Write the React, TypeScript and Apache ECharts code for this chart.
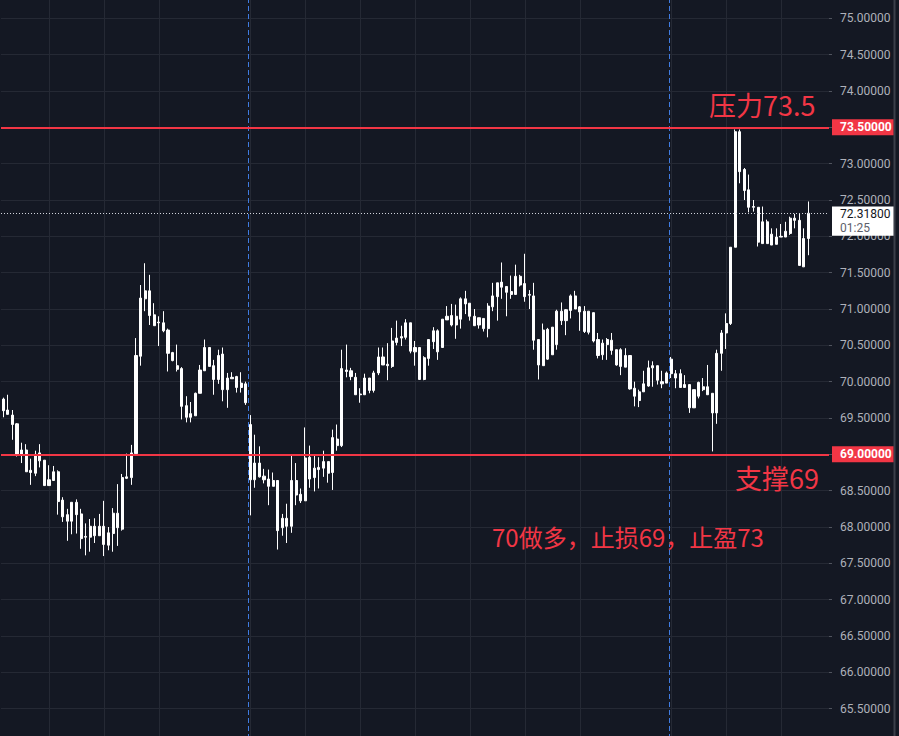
import React, { useEffect, useRef } from "react";
import * as echarts from "echarts";

// ---- data (all candles drawn white) ----
const bodyTop = [
  69.76, 69.61, 69.54, 69.42, 69.06, 69.06, 68.78, 69.0, 69.02, 68.92,
  68.65, 68.76, 68.76, 68.37, 68.17, 68.34, 68.34, 68.18, 67.87, 68.01,
  68.01, 68.01, 68.01, 67.92, 68.19, 68.19, 68.68, 68.69, 69.02, 70.36,
  71.15, 71.25, 71.25, 70.92, 70.82, 70.81, 70.71, 70.4, 70.22, 70.18,
  69.67, 69.56, 69.84, 70.16, 70.47, 70.47, 70.22, 70.36, 70.38, 70.05,
  70.06, 70.07, 69.98, 69.97, 69.41, 68.88, 68.88, 68.7, 68.66, 68.64,
  68.64, 68.12, 68.12, 68.64, 68.64, 68.45, 68.95, 68.96, 68.81, 68.82,
  68.9, 68.9, 69.23, 69.21, 70.18, 70.16, 70.15, 70.06, 69.83, 70.05,
  70.05, 70.12, 70.34, 70.34, 70.24, 70.56, 70.6, 70.62, 70.81, 70.81,
  70.47, 70.47, 70.33, 70.58, 70.7, 70.7, 70.86, 70.9, 70.91, 70.9,
  71.14, 71.14, 71.08, 70.9, 70.88, 70.87, 71.04, 71.18, 71.36, 71.37,
  71.31, 71.24, 71.45, 71.45, 71.35, 71.2, 71.18, 70.58, 70.71, 70.72,
  70.75, 70.97, 70.97, 70.99, 71.18, 71.18, 71.03, 70.97, 70.97, 70.95,
  70.58, 70.53, 70.58, 70.57, 70.44, 70.44, 70.36, 70.36, 69.91, 69.86,
  69.97, 70.19, 70.22, 70.22, 70.0, 70.12, 70.31, 70.11, 70.11, 69.96,
  69.96, 69.89, 69.99, 69.93, 69.93, 69.84, 70.39, 70.67, 70.8, 71.85,
  73.44, 73.44, 72.92, 72.64, 72.41, 72.4, 72.2, 72.2, 72.03, 71.99,
  72.0, 72.07, 72.25, 72.25, 72.22, 71.97, 72.318,
];
const bodyBottom = [
  69.6, 69.55, 69.41, 69.0, 69.0, 68.76, 68.75, 68.74, 68.91, 68.57,
  68.57, 68.64, 68.35, 68.14, 68.08, 68.08, 68.17, 67.84, 67.86, 67.86,
  67.88, 67.88, 67.76, 67.75, 67.91, 67.99, 67.97, 68.67, 68.68, 69.01,
  70.35, 71.14, 70.91, 70.77, 70.81, 70.7, 70.39, 70.29, 70.17, 69.66,
  69.51, 69.51, 69.53, 69.84, 70.15, 70.21, 70.03, 70.03, 69.89, 69.89,
  70.04, 69.92, 69.92, 69.71, 68.65, 68.65, 68.69, 68.65, 68.56, 68.56,
  67.95, 67.99, 68.01, 68.01, 68.44, 68.36, 68.36, 68.66, 68.68, 68.79,
  68.81, 68.74, 68.75, 69.12, 69.12, 70.14, 70.07, 69.82, 69.82, 69.82,
  69.88, 69.88, 70.12, 70.23, 70.22, 70.21, 70.54, 70.6, 70.61, 70.42,
  70.41, 70.03, 70.03, 70.32, 70.55, 70.41, 70.47, 70.85, 70.78, 70.78,
  70.86, 71.07, 70.9, 70.77, 70.78, 70.73, 70.73, 71.03, 71.17, 71.3,
  71.23, 71.2, 71.2, 71.33, 71.17, 71.19, 70.57, 70.23, 70.22, 70.31,
  70.37, 70.51, 70.84, 70.84, 70.98, 71.0, 70.96, 70.69, 70.68, 70.56,
  70.36, 70.37, 70.51, 70.43, 70.23, 70.21, 70.2, 69.9, 69.8, 69.74,
  69.86, 69.94, 70.19, 70.02, 69.97, 69.98, 70.11, 70.05, 69.92, 69.92,
  69.64, 69.64, 69.8, 69.89, 69.82, 69.57, 69.57, 70.39, 70.67, 70.8,
  71.85, 72.89, 72.63, 72.4, 72.4, 71.92, 71.9, 71.9, 71.88, 71.89,
  71.99, 71.99, 72.04, 72.22, 71.6, 71.58, 71.97,
];
const highs = [
  69.78, 69.82, 69.61, 69.43, 69.16, 69.14, 68.94, 69.05, 69.14, 68.92,
  68.85, 68.84, 68.78, 68.41, 68.25, 68.34, 68.38, 68.25, 68.05, 68.11,
  68.12, 68.18, 68.36, 68.0, 68.26, 68.59, 68.73, 69.01, 69.13, 70.6,
  71.33, 71.63, 71.47, 71.08, 70.9, 70.97, 70.73, 70.41, 70.51, 70.2,
  69.8, 69.72, 69.85, 70.23, 70.58, 70.47, 70.3, 70.44, 70.47, 70.12,
  70.13, 70.08, 70.13, 70.0, 69.54, 69.27, 69.11, 68.8, 68.79, 68.75,
  68.64, 68.18, 68.32, 68.98, 68.88, 68.53, 69.37, 69.12, 68.98, 68.96,
  69.05, 68.9, 69.34, 69.41, 70.44, 70.51, 70.19, 70.12, 69.91, 70.11,
  70.05, 70.15, 70.47, 70.47, 70.53, 70.74, 70.84, 70.77, 70.86, 70.81,
  70.56, 70.47, 70.35, 70.58, 70.75, 70.72, 70.86, 71.04, 71.07, 71.06,
  71.16, 71.25, 71.08, 71.0, 70.88, 70.87, 71.08, 71.36, 71.36, 71.64,
  71.31, 71.46, 71.61, 71.47, 71.76, 71.26, 71.36, 70.58, 70.8, 70.74,
  70.75, 70.99, 71.09, 71.0, 71.2, 71.25, 71.04, 71.04, 70.97, 70.95,
  70.67, 70.58, 70.6, 70.67, 70.44, 70.46, 70.46, 70.36, 70.0, 69.89,
  70.15, 70.29, 70.28, 70.22, 70.15, 70.14, 70.34, 70.16, 70.17, 70.09,
  69.96, 69.89, 70.0, 70.05, 70.23, 69.84, 70.44, 70.71, 70.94, 71.85,
  73.47, 73.47, 72.94, 72.85, 72.5, 72.4, 72.41, 72.23, 72.11, 72.11,
  72.17, 72.2, 72.27, 72.31, 72.32, 72.11, 72.48,
];
const lows = [
  69.51, 69.55, 69.2, 68.97, 68.88, 68.76, 68.58, 68.7, 68.82, 68.57,
  68.57, 68.64, 68.17, 68.07, 67.81, 67.9, 67.91, 67.7, 67.61, 67.66,
  67.78, 67.88, 67.6, 67.68, 67.66, 67.74, 67.95, 68.66, 68.58, 69.01,
  70.22, 70.97, 70.78, 70.77, 70.49, 70.68, 70.14, 70.28, 70.14, 69.48,
  69.44, 69.44, 69.53, 69.84, 70.15, 70.21, 69.82, 69.97, 69.73, 69.64,
  70.04, 69.85, 69.85, 69.68, 68.16, 68.54, 68.68, 68.6, 68.3, 68.56,
  67.69, 67.88, 67.78, 67.92, 68.3, 68.33, 68.36, 68.54, 68.49, 68.53,
  68.69, 68.61, 68.51, 69.05, 69.1, 70.06, 70.02, 69.82, 69.71, 69.82,
  69.84, 69.85, 70.09, 70.23, 70.02, 70.19, 70.5, 70.49, 70.58, 70.39,
  70.22, 70.03, 70.02, 70.22, 70.45, 70.3, 70.47, 70.85, 70.76, 70.59,
  70.73, 70.93, 70.84, 70.77, 70.73, 70.69, 70.61, 70.97, 70.84, 71.14,
  70.9, 71.14, 71.2, 71.31, 71.1, 71.0, 70.44, 70.03, 70.22, 70.3,
  70.37, 70.44, 70.78, 70.64, 70.87, 71.0, 70.7, 70.67, 70.65, 70.54,
  70.32, 70.3, 70.3, 70.37, 70.22, 70.09, 70.2, 69.89, 69.66, 69.65,
  69.86, 69.93, 69.93, 69.96, 69.91, 69.98, 70.05, 69.91, 69.92, 69.92,
  69.57, 69.64, 69.77, 69.87, 69.82, 69.04, 69.42, 70.15, 70.45, 70.78,
  71.85, 72.73, 72.5, 72.33, 72.34, 71.86, 71.9, 71.9, 71.88, 71.89,
  71.99, 71.99, 72.02, 72.11, 71.6, 71.58, 71.74,
];

const lastPrice = 72.318;
const countdown = "01:25";
const resistance = 73.5;
const support = 69.0;
const yMin = 65;
const yMax = 75.5;
const yStep = 0.5;
const totalSlots = 181; // candles + empty space on the right
const gridLineIdx = [10, 22, 34, 54, 66, 78, 90, 102, 114, 126, 146, 158, 170];
const sessionStartIdx = [54, 146];
const noteResistance = "压力73.5";
const noteSupport = "支撑69";
const notePlan = "70做多，止损69，止盈73";

const RED = "#f23645";
const BG = "#141823";
const GRID = "#252934";

// page frame is 899x736; the chart canvas is a little taller so that the
// 75.5 and 65.0 ticks fall just outside the visible frame
const FRAME_W = 899;
const FRAME_H = 736;
const OFF_TOP = 17.83;
const CHART_H = 763.03;

export default function App() {
  const ref = useRef<HTMLDivElement>(null);

  useEffect(() => {
    document.body.style.margin = "0";
    const chart = echarts.init(ref.current!, null, { renderer: "svg" });

    const n = bodyTop.length;
    const ohlc: number[][] = [];
    let prevClose = bodyBottom[0];
    for (let i = 0; i < n; i++) {
      const t = bodyTop[i];
      const b = bodyBottom[i];
      let o: number, c: number;
      if (i === n - 1) {
        c = lastPrice;
        o = b;
      } else if (Math.abs(t - prevClose) < Math.abs(b - prevClose)) {
        o = t;
        c = b;
      } else {
        o = b;
        c = t;
      }
      ohlc.push([o, c, lows[i], highs[i]]);
      prevClose = c;
    }
    const categories = Array.from({ length: totalSlots }, (_, i) => String(i + 1));

    chart.setOption({
      animation: false,
      backgroundColor: BG,
      grid: { left: 1, right: 70, top: 0, bottom: 0, containLabel: false, outerBoundsMode: "none" },
      xAxis: {
        type: "category",
        data: categories,
        boundaryGap: true,
        axisLine: { show: false },
        axisTick: { show: false },
        axisLabel: { show: false },
        splitLine: { show: false },
      },
      yAxis: {
        type: "value",
        position: "right",
        min: yMin,
        max: yMax,
        interval: yStep,
        axisLine: { show: false },
        axisTick: { show: true, length: 3, lineStyle: { color: "#50545e" } },
        axisLabel: {
          margin: 11,
          color: "#aeb1ba",
          fontSize: 12,
          fontFamily: "Roboto",
          showMinLabel: false,
          showMaxLabel: false,
          formatter: (v: number) => v.toFixed(5),
        },
        splitLine: { show: true, lineStyle: { color: GRID, width: 1 } },
      },
      series: [
        {
          type: "candlestick",
          data: ohlc,
          barWidth: 2.6,
          silent: true,
          itemStyle: {
            color: "#ffffff",
            color0: "#ffffff",
            borderColor: "#ffffff",
            borderColor0: "#ffffff",
            borderWidth: 1,
          },
          markLine: {
            silent: true,
            symbol: ["none", "none"],
            label: { show: false },
            z: 5,
            data: [
              { yAxis: resistance, lineStyle: { color: RED, width: 2, type: "solid" } },
              { yAxis: support, lineStyle: { color: RED, width: 2, type: "solid" } },
              { yAxis: lastPrice, lineStyle: { color: "#d1d4dc", width: 1, type: [1, 2] } },
            ],
          },
        },
      ],
    });

    const gx = (i: number) => chart.convertToPixel({ xAxisIndex: 0 }, i) as number;
    const gy = (v: number) => chart.convertToPixel({ yAxisIndex: 0 }, v) as number;

    const graphics: any[] = [];
    gridLineIdx.forEach((idx) => {
      const x = Math.round(gx(idx)) + 0.5;
      graphics.push({
        type: "line",
        silent: true,
        z: 1,
        shape: { x1: x, y1: 0, x2: x, y2: CHART_H },
        style: { stroke: GRID, lineWidth: 1 },
      });
    });
    sessionStartIdx.forEach((idx) => {
      const x = Math.round((gx(idx - 1) + gx(idx)) / 2) + 0.5;
      graphics.push({
        type: "line",
        silent: true,
        z: 1,
        shape: { x1: x, y1: 0, x2: x, y2: CHART_H },
        style: { stroke: "#3f7be0", lineWidth: 1, lineDash: [5, 3] },
      });
    });

    // right border of the price scale
    graphics.push({
      type: "rect",
      silent: true,
      z: 50,
      shape: { x: 893.5, y: 0, width: 2, height: CHART_H },
      style: { fill: "#3b3f4a" },
    });

    const labelX = 832;
    const labelW = 61.5;
    const textX = 840;
    [resistance, support].forEach((v) => {
      const y = gy(v);
      graphics.push({
        type: "rect",
        silent: true,
        z: 60,
        shape: { x: labelX, y: y - 8, width: labelW, height: 16 },
        style: { fill: RED },
      });
      graphics.push({
        type: "text",
        silent: true,
        z: 61,
        style: {
          text: v.toFixed(5),
          x: textX,
          y: y,
          fill: "#ffffff",
          fontSize: 12,
          fontWeight: "bold",
          fontFamily: "Roboto",
          align: "left",
          verticalAlign: "middle",
          textAlign: "left",
          textVerticalAlign: "middle",
        },
      });
    });

    const py = gy(lastPrice);
    graphics.push({
      type: "rect",
      silent: true,
      z: 60,
      shape: { x: labelX, y: py - 6.8, width: labelW, height: 29.3 },
      style: { fill: "#ffffff" },
    });
    graphics.push({
      type: "text",
      silent: true,
      z: 61,
      style: {
        text: lastPrice.toFixed(5),
        x: textX,
        y: py + 0.5,
        fill: "#131722",
        fontSize: 12,
        fontFamily: "Roboto",
        align: "left",
        verticalAlign: "middle",
        textAlign: "left",
        textVerticalAlign: "middle",
      },
    });
    graphics.push({
      type: "text",
      silent: true,
      z: 61,
      style: {
        text: countdown,
        x: textX,
        y: py + 14.3,
        fill: "#5d606b",
        fontSize: 12,
        fontFamily: "Roboto",
        align: "left",
        verticalAlign: "middle",
        textAlign: "left",
        textVerticalAlign: "middle",
      },
    });

    const noteStyle = (text: string, x: number, y: number, size: number) => ({
      type: "text",
      silent: true,
      z: 70,
      style: {
        text,
        x,
        y,
        fill: RED,
        fontSize: size,
        fontFamily: "Noto Sans CJK SC",
        align: "left",
        verticalAlign: "middle",
        textAlign: "left",
        textVerticalAlign: "middle",
      },
    });
    const yRes = gy(resistance);
    const ySup = gy(support);
    graphics.push(noteStyle(noteResistance, 709, yRes - 23, 27));
    graphics.push(noteStyle(noteSupport, 735, ySup + 23, 27));
    graphics.push(noteStyle(notePlan, 492, ySup + 82, 24));

    chart.setOption({ graphic: graphics });

    return () => chart.dispose();
  }, []);

  return (
    <div
      style={{
        position: "absolute",
        left: 0,
        top: 0,
        width: FRAME_W,
        height: FRAME_H,
        overflow: "hidden",
        background: BG,
      }}
    >
      <div
        ref={ref}
        style={{ position: "absolute", left: 0, top: -OFF_TOP, width: FRAME_W, height: CHART_H }}
      />
    </div>
  );
}
